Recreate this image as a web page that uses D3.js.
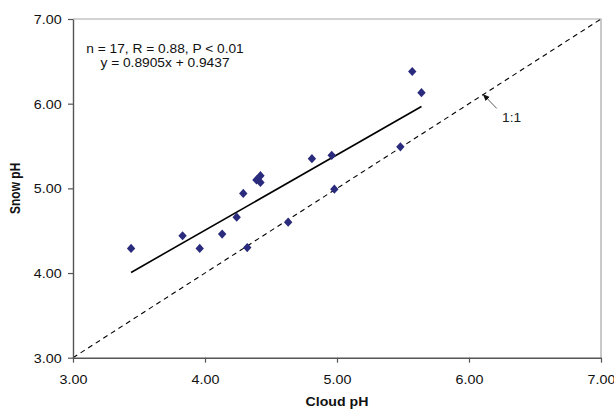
<!DOCTYPE html>
<html>
<head>
<meta charset="utf-8">
<script src="https://cdn.jsdelivr.net/npm/d3@7"></script>
<style>
  html, body { margin: 0; padding: 0; background: #fff; }
  svg { display: block; font-family: "Liberation Sans", Arial, sans-serif; }
</style>
</head>
<body>
<svg id="chart" width="614" height="411"></svg>
<script>
// ---- data ----
const cloudPH = [3.44, 3.83, 3.96, 4.13, 4.24, 4.29, 4.32, 4.39, 4.42, 4.42, 4.63, 4.81, 4.96, 4.98, 5.48, 5.57, 5.64];
const snowPH  = [4.29, 4.44, 4.29, 4.46, 4.66, 4.94, 4.30, 5.10, 5.15, 5.07, 4.60, 5.35, 5.39, 4.99, 5.49, 6.38, 6.13];
const xTicks = [3, 4, 5, 6, 7];
const yTicks = [3, 4, 5, 6, 7];
const fitSlope = 0.8905, fitIntercept = 0.9437;
const fitRange = [3.44, 5.64];
const oneToOne = [3, 7];
const statsLines = ["n = 17, R = 0.88, P < 0.01", "y = 0.8905x + 0.9437"];
const xTitle = "Cloud pH", yTitle = "Snow pH";

// ---- layout ----
const svg = d3.select("#chart");
const L = 73, R = 601, T = 19, B = 357.7;
const x = d3.scaleLinear().domain([3, 7]).range([L, R]);
const y = d3.scaleLinear().domain([3, 7]).range([B, T]);
const SX = 1.1; // horizontal stretch of text in the reference
const fmt = d3.format(".2f");

// plot frame (top & right light gray)
svg.append("path")
  .attr("d", `M${L},${T}H${R}V${B}`)
  .attr("fill", "none").attr("stroke", "#a6a6a6").attr("stroke-width", 1.2);

// 1:1 dashed line
svg.append("line")
  .attr("x1", x(oneToOne[0])).attr("y1", y(oneToOne[0]))
  .attr("x2", x(oneToOne[1])).attr("y2", y(oneToOne[1]))
  .attr("stroke", "#000").attr("stroke-width", 1.1)
  .attr("stroke-dasharray", "5,4");

// regression line
svg.append("line")
  .attr("x1", x(fitRange[0])).attr("y1", y(fitSlope * fitRange[0] + fitIntercept))
  .attr("x2", x(fitRange[1])).attr("y2", y(fitSlope * fitRange[1] + fitIntercept))
  .attr("stroke", "#000").attr("stroke-width", 1.6);

// axes
const gx = svg.append("g").attr("transform", `translate(0,${B})`)
  .call(d3.axisBottom(x).tickValues(xTicks).tickFormat(fmt).tickSize(5).tickSizeOuter(0));
const gy = svg.append("g").attr("transform", `translate(${L},0)`)
  .call(d3.axisLeft(y).tickValues(yTicks).tickFormat(fmt).tickSize(5).tickSizeOuter(0));
[gx, gy].forEach(g => {
  g.select(".domain").attr("stroke", "#555").attr("stroke-width", 1.4);
  g.selectAll(".tick line").attr("stroke", "#555").attr("stroke-width", 1.2);
  g.selectAll("text").attr("fill", "#111").attr("font-size", 13)
    .attr("font-family", "'Liberation Sans', Arial, sans-serif");
});
gx.selectAll(".tick text").attr("y", 0).attr("dy", 0)
  .attr("transform", `translate(0,26) scale(${SX},1)`);
gy.selectAll(".tick text").attr("x", 0).attr("dy", "0.35em")
  .attr("transform", `translate(-11.3,0) scale(${SX},1)`);

// axis titles
svg.append("text")
  .attr("transform", `translate(${(L + R) / 2},406) scale(1.18,1)`)
  .attr("text-anchor", "middle").attr("font-size", 12).attr("font-weight", "bold")
  .attr("fill", "#111").text(xTitle);
svg.append("text")
  .attr("transform", `translate(20,${(T + B) / 2}) scale(1.15,1) rotate(-90)`)
  .attr("text-anchor", "middle").attr("font-size", 12).attr("font-weight", "bold")
  .attr("fill", "#111").text(yTitle);

// points (diamonds)
const diamond = "M0,-4.6L4.2,0L0,4.6L-4.2,0Z";
svg.append("g").selectAll("path")
  .data(cloudPH.map((c, i) => [c, snowPH[i]]))
  .join("path")
  .attr("d", diamond)
  .attr("transform", d => `translate(${x(d[0])},${y(d[1])})`)
  .attr("fill", "#2b2b7e");

// stats annotation
svg.append("g").selectAll("text").data(statsLines).join("text")
  .attr("transform", (d, i) => `translate(165,${53.3 + i * 14}) scale(1.1,1)`)
  .attr("text-anchor", "middle").attr("font-size", 12.5).attr("fill", "#111")
  .text(d => d);

// 1:1 label with arrow
svg.append("defs").append("marker")
  .attr("id", "ah").attr("viewBox", "0 0 10 10").attr("refX", 9).attr("refY", 5)
  .attr("markerWidth", 7).attr("markerHeight", 7).attr("markerUnits", "userSpaceOnUse")
  .attr("orient", "auto")
  .append("path").attr("d", "M0,1L10,5L0,9Z").attr("fill", "#111");
svg.append("line")
  .attr("x1", x(6.21)).attr("y1", y(5.944))
  .attr("x2", x(6.108)).attr("y2", y(6.108))
  .attr("stroke", "#333").attr("stroke-width", 0.8)
  .attr("marker-end", "url(#ah)");
svg.append("text")
  .attr("transform", `translate(${x(6.25)},${y(5.78)}) scale(1.1,1)`)
  .attr("font-size", 12.5).attr("fill", "#222").text("1:1");
</script>
</body>
</html>
